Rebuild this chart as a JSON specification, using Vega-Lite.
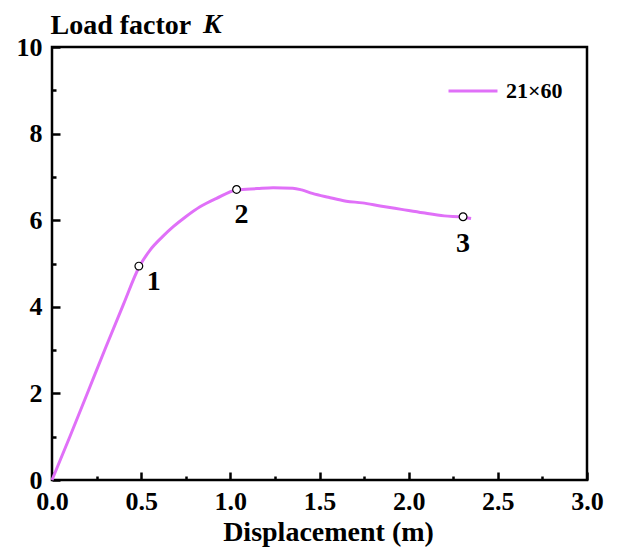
{
  "$schema": "https://vega.github.io/schema/vega-lite/v6.json",
  "width": 535,
  "height": 433,
  "autosize": {"type": "none"},
  "padding": {"left": 52, "top": 47, "right": 31, "bottom": 68},
  "background": "white",
  "config": {
    "view": {"stroke": "black", "strokeWidth": 2.5},
    "axis": {
      "labelFont": "Liberation Serif",
      "labelFontWeight": "bold",
      "labelFontSize": 26,
      "labelColor": "black",
      "titleFont": "Liberation Serif",
      "titleFontWeight": "bold",
      "titleFontSize": 28,
      "titleColor": "black",
      "domain": false,
      "grid": false,
      "tickColor": "black",
      "tickWidth": 2.5
    }
  },
  "datasets": {
    "curve": [
      {"x": 0.0, "y": 0.0, "series": "21×60"},
      {"x": 0.1, "y": 1.0, "series": "21×60"},
      {"x": 0.2, "y": 2.02, "series": "21×60"},
      {"x": 0.3, "y": 3.05, "series": "21×60"},
      {"x": 0.4, "y": 4.05, "series": "21×60"},
      {"x": 0.49, "y": 4.93, "series": "21×60"},
      {"x": 0.55, "y": 5.31, "series": "21×60"},
      {"x": 0.62, "y": 5.62, "series": "21×60"},
      {"x": 0.68, "y": 5.85, "series": "21×60"},
      {"x": 0.75, "y": 6.08, "series": "21×60"},
      {"x": 0.83, "y": 6.31, "series": "21×60"},
      {"x": 0.92, "y": 6.5, "series": "21×60"},
      {"x": 1.035, "y": 6.7, "series": "21×60"},
      {"x": 1.15, "y": 6.73, "series": "21×60"},
      {"x": 1.24, "y": 6.75, "series": "21×60"},
      {"x": 1.35, "y": 6.74, "series": "21×60"},
      {"x": 1.4, "y": 6.7, "series": "21×60"},
      {"x": 1.46, "y": 6.62, "series": "21×60"},
      {"x": 1.55, "y": 6.53, "series": "21×60"},
      {"x": 1.65, "y": 6.44, "series": "21×60"},
      {"x": 1.74, "y": 6.4, "series": "21×60"},
      {"x": 1.84, "y": 6.33, "series": "21×60"},
      {"x": 1.96, "y": 6.25, "series": "21×60"},
      {"x": 2.08, "y": 6.17, "series": "21×60"},
      {"x": 2.2, "y": 6.1, "series": "21×60"},
      {"x": 2.305, "y": 6.07, "series": "21×60"},
      {"x": 2.35, "y": 6.04, "series": "21×60"}
    ],
    "marks": [
      {"x": 0.487, "y": 4.94, "label": "1"},
      {"x": 1.035, "y": 6.71, "label": "2"},
      {"x": 2.305, "y": 6.08, "label": "3"}
    ],
    "symbol": [
      {"x": 0, "y": 10, "label": "K"}
    ]
  },
  "encoding": {
    "x": {
      "field": "x",
      "type": "quantitative",
      "scale": {"domain": [0, 3], "nice": false, "zero": false},
      "axis": {
        "title": "Displacement (m)",
        "titleX": 276,
        "titleY": 60,
        "titleBaseline": "alphabetic",
        "values": [0, 0.25, 0.5, 0.75, 1, 1.25, 1.5, 1.75, 2, 2.25, 2.5, 2.75, 3],
        "labelExpr": "datum.value % 0.5 === 0 ? format(datum.value, '.1f') : ''",
        "tickSize": {"condition": {"test": "datum.value % 0.5 === 0", "value": -8}, "value": -4},
        "labelPadding": 16,
        "labelFlush": false
      }
    },
    "y": {
      "field": "y",
      "type": "quantitative",
      "scale": {"domain": [0, 10], "nice": false, "zero": false},
      "axis": {
        "title": "Load factor",
        "titleAngle": 0,
        "titleAlign": "left",
        "titleBaseline": "alphabetic",
        "titleX": -2,
        "titleY": -14,
        "values": [0, 1, 2, 3, 4, 5, 6, 7, 8, 9, 10],
        "labelExpr": "datum.value % 2 === 0 ? format(datum.value, 'd') : ''",
        "tickSize": {"condition": {"test": "datum.value % 2 === 0", "value": -8}, "value": -4},
        "labelPadding": 18,
        "labelFlush": false
      }
    }
  },
  "layer": [
    {
      "data": {"name": "curve"},
      "mark": {"type": "line", "strokeWidth": 3, "interpolate": "monotone"},
      "encoding": {
        "color": {
          "field": "series",
          "type": "nominal",
          "scale": {"range": ["#E070F8"]},
          "legend": {
            "title": null,
            "orient": "none",
            "legendX": 395,
            "legendY": 18,
            "padding": 0,
            "symbolType": "stroke",
            "symbolSize": 2400,
            "symbolStrokeWidth": 3,
            "labelFont": "Liberation Serif",
            "labelFontWeight": "bold",
            "labelFontSize": 22,
            "labelColor": "black",
            "labelOffset": 7
          }
        }
      }
    },
    {
      "data": {"name": "marks"},
      "mark": {"type": "point", "shape": "circle", "filled": true, "fill": "white", "stroke": "black", "strokeWidth": 1.2, "size": 60, "opacity": 1}
    },
    {
      "data": {"name": "symbol"},
      "mark": {"type": "text", "font": "Liberation Serif", "fontWeight": "bold", "fontStyle": "italic", "fontSize": 28, "color": "black", "align": "left", "baseline": "alphabetic", "dx": 151, "dy": -14},
      "encoding": {"text": {"field": "label"}}
    },
    {
      "data": {"name": "marks"},
      "transform": [{"filter": "datum.label === '1'"}],
      "mark": {"type": "text", "font": "Liberation Serif", "fontWeight": "bold", "fontSize": 28, "color": "black", "align": "center", "baseline": "alphabetic", "dx": 15, "dy": 24},
      "encoding": {"text": {"field": "label"}}
    },
    {
      "data": {"name": "marks"},
      "transform": [{"filter": "datum.label === '2'"}],
      "mark": {"type": "text", "font": "Liberation Serif", "fontWeight": "bold", "fontSize": 28, "color": "black", "align": "center", "baseline": "alphabetic", "dx": 5, "dy": 34},
      "encoding": {"text": {"field": "label"}}
    },
    {
      "data": {"name": "marks"},
      "transform": [{"filter": "datum.label === '3'"}],
      "mark": {"type": "text", "font": "Liberation Serif", "fontWeight": "bold", "fontSize": 28, "color": "black", "align": "center", "baseline": "alphabetic", "dx": 0, "dy": 35},
      "encoding": {"text": {"field": "label"}}
    }
  ]
}
